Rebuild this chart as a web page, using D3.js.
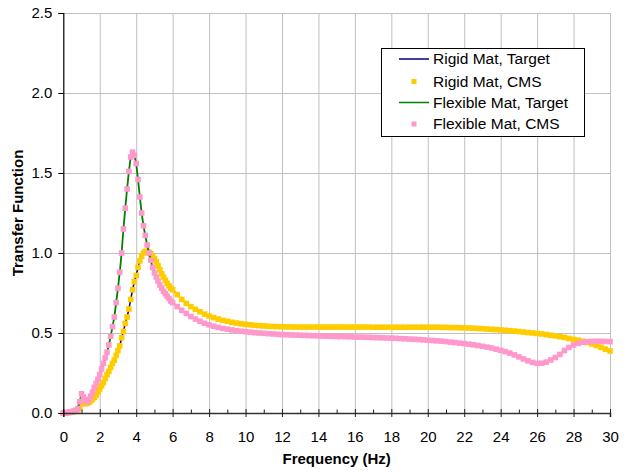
<!DOCTYPE html>
<html>
<head>
<meta charset="utf-8">
<script src="https://cdn.jsdelivr.net/npm/d3@7"></script>
<style>
  html, body { margin: 0; padding: 0; background: #fff; }
  svg { display: block; font-family: Arial, "Liberation Sans", sans-serif; }
</style>
</head>
<body>
<svg id="chart" width="629" height="472"></svg>
<script>
// ---------------- DATA ----------------
const freq = [
  0,0.1,0.2,0.3,0.4,0.5,0.6,0.7,0.8,0.9,1,1.1,1.2,1.3,1.4,1.5,1.6,1.7,1.8,1.9,
  2,2.1,2.2,2.3,2.4,2.5,2.6,2.7,2.8,2.9,3,3.1,3.2,3.3,3.4,3.5,3.6,3.7,3.8,3.9,
  4,4.1,4.2,4.3,4.4,4.5,4.6,4.7,4.8,4.9,5,5.1,5.2,5.3,5.4,5.5,5.6,5.7,5.8,5.9,6,
  6.25,6.5,6.75,7,7.25,7.5,7.75,8,8.25,8.5,8.75,9,9.25,9.5,9.75,10,10.25,10.5,10.75,11,
  11.25,11.5,11.75,12,12.25,12.5,12.75,13,13.25,13.5,13.75,14,14.25,14.5,14.75,15,
  15.25,15.5,15.75,16,16.25,16.5,16.75,17,17.25,17.5,17.75,18,18.25,18.5,18.75,19,
  19.25,19.5,19.75,20,20.25,20.5,20.75,21,21.25,21.5,21.75,22,22.25,22.5,22.75,23,
  23.25,23.5,23.75,24,24.25,24.5,24.75,25,25.25,25.5,25.75,26,26.25,26.5,26.75,27,
  27.25,27.5,27.75,28,28.25,28.5,28.75,29,29.25,29.5,29.75,30
];

const rigidCMS = [
  0,0,0.002,0.003,0.005,0.007,0.01,0.014,0.02,0.035,0.06,0.06,0.058,0.06,0.066,0.075,0.085,0.097,0.11,0.13,
  0.15,0.17,0.19,0.215,0.24,0.26,0.285,0.31,0.33,0.36,0.39,0.42,0.47,0.51,0.56,0.6,0.65,0.71,0.77,0.82,
  0.86,0.91,0.95,0.98,1.0,1.01,1.01,1.005,0.995,0.98,0.965,0.945,0.92,0.895,0.87,0.85,0.83,0.81,0.795,0.78,0.77,
  0.74,0.71,0.685,0.665,0.648,0.633,0.618,0.606,0.596,0.587,0.579,0.573,0.567,0.562,0.558,0.554,0.551,0.548,0.546,0.544,
  0.542,0.541,0.54,0.539,0.538,0.538,0.537,0.537,0.537,0.537,0.537,0.537,0.537,0.537,0.537,0.537,
  0.537,0.537,0.537,0.537,0.537,0.537,0.537,0.536,0.536,0.536,0.536,0.536,0.536,0.536,0.536,0.536,
  0.536,0.536,0.536,0.536,0.536,0.536,0.535,0.535,0.534,0.534,0.533,0.532,0.531,0.53,0.528,0.527,
  0.525,0.523,0.521,0.519,0.517,0.514,0.512,0.509,0.506,0.503,0.5,0.497,0.494,0.49,0.486,0.482,
  0.477,0.472,0.466,0.46,0.455,0.449,0.441,0.432,0.422,0.411,0.399,0.388
];

const flexCMS = [
  0,0,0.002,0.004,0.006,0.009,0.013,0.018,0.027,0.07,0.12,0.1,0.08,0.07,0.085,0.105,0.13,0.16,0.185,0.21,
  0.24,0.275,0.31,0.345,0.38,0.425,0.48,0.54,0.6,0.69,0.78,0.88,1.0,1.15,1.28,1.4,1.51,1.6,1.63,1.61,
  1.56,1.46,1.35,1.25,1.17,1.11,1.05,1.0,0.955,0.91,0.875,0.85,0.825,0.8,0.78,0.76,0.745,0.73,0.715,0.7,0.69,
  0.665,0.642,0.622,0.603,0.587,0.573,0.561,0.551,0.542,0.535,0.529,0.524,0.519,0.515,0.511,0.508,0.505,0.502,0.5,0.498,
  0.496,0.494,0.492,0.49,0.489,0.488,0.487,0.486,0.485,0.484,0.483,0.482,0.481,0.48,0.479,0.478,
  0.478,0.477,0.476,0.475,0.474,0.474,0.473,0.472,0.471,0.47,0.469,0.468,0.467,0.465,0.464,0.462,
  0.461,0.459,0.457,0.455,0.453,0.451,0.449,0.446,0.443,0.44,0.437,0.434,0.43,0.426,0.422,0.417,
  0.412,0.406,0.399,0.392,0.384,0.374,0.363,0.351,0.338,0.326,0.316,0.31,0.311,0.318,0.331,0.347,
  0.366,0.39,0.41,0.425,0.435,0.442,0.446,0.447,0.448,0.448,0.447,0.446
];

// Target curves coincide with the CMS results
const rigidTarget = rigidCMS;
const flexTarget = flexCMS;

const xTicks = [0,2,4,6,8,10,12,14,16,18,20,22,24,26,28,30];
const xMinorTicks = [1,3,5,7,9,11,13,15,17,19,21,23,25,27,29];
const yTicks = [0,0.5,1.0,1.5,2.0,2.5];

const seriesNames = ["Rigid Mat, Target","Rigid Mat, CMS","Flexible Mat, Target","Flexible Mat, CMS"];

// ---------------- CHART ----------------
const svg = d3.select("#chart");
const L = 63.3, R = 610, T = 13, B = 413;

const x = d3.scaleLinear().domain([0,30]).range([L,R]);
const y = d3.scaleLinear().domain([0,2.5]).range([B,T]);

const gridColor = "#c0c0c0";

// gridlines
svg.append("g")
  .attr("transform", `translate(0,${B})`)
  .call(d3.axisBottom(x).tickValues(xTicks.filter(d => d > 0)).tickSize(-(B - T)).tickFormat(""))
  .call(g => g.select(".domain").remove())
  .call(g => g.selectAll("line").attr("stroke", gridColor).attr("stroke-width", 1));

svg.append("g")
  .attr("transform", `translate(${L},0)`)
  .call(d3.axisLeft(y).tickValues(yTicks.filter(d => d > 0)).tickSize(-(R - L)).tickFormat(""))
  .call(g => g.select(".domain").remove())
  .call(g => g.selectAll("line").attr("stroke", gridColor).attr("stroke-width", 1));

// series
const pts = (vals) => freq.map((f, i) => [f, vals[i]]);
const line = d3.line().x(d => x(d[0])).y(d => y(d[1]));
const ms = 5.6;

svg.append("path").datum(pts(rigidTarget))
  .attr("fill", "none").attr("stroke", "#000080").attr("stroke-width", 1.5).attr("d", line);

svg.append("g").selectAll("rect").data(pts(rigidCMS)).join("rect")
  .attr("x", d => x(d[0]) - ms / 2).attr("y", d => y(d[1]) - ms / 2)
  .attr("width", ms).attr("height", ms).attr("fill", "#ffcc00");

svg.append("path").datum(pts(flexTarget))
  .attr("fill", "none").attr("stroke", "#008000").attr("stroke-width", 1.8).attr("d", line);

svg.append("g").selectAll("rect").data(pts(flexCMS)).join("rect")
  .attr("x", d => x(d[0]) - ms / 2).attr("y", d => y(d[1]) - ms / 2)
  .attr("width", ms).attr("height", ms).attr("fill", "#ff99cc");

// x axis
const xAxisG = svg.append("g").attr("transform", `translate(0,${B})`);
xAxisG.call(d3.axisBottom(x).tickValues(xTicks).tickSizeOuter(0).tickSize(4).tickPadding(0))
  .call(g => g.select(".domain").attr("stroke", "#333").attr("stroke-width", 1.5))
  .call(g => g.selectAll(".tick line").attr("y1", -4).attr("y2", 4).attr("stroke", "#222"))
  .call(g => g.selectAll(".tick text").attr("y", 29).attr("dy", 0)
      .attr("font-size", 15).attr("fill", "#000").attr("font-family", "Arial, 'Liberation Sans', sans-serif"));
svg.append("g").attr("transform", `translate(0,${B})`)
  .call(d3.axisBottom(x).tickValues(xMinorTicks).tickSize(-3.5).tickFormat(""))
  .call(g => g.select(".domain").remove())
  .call(g => g.selectAll("line").attr("stroke", "#222"));

// y axis
svg.append("g").attr("transform", `translate(${L},0)`)
  .call(d3.axisLeft(y).tickValues(yTicks).tickFormat(d3.format(".1f")).tickSizeOuter(0).tickSize(5).tickPadding(6))
  .call(g => g.select(".domain").attr("stroke", "#000").attr("stroke-width", 1.2))
  .call(g => g.selectAll(".tick line").attr("stroke", "#000"))
  .call(g => g.selectAll(".tick text").attr("font-size", 15).attr("fill", "#000")
      .attr("font-family", "Arial, 'Liberation Sans', sans-serif"));

// axis titles
svg.append("text").attr("x", (L + R) / 2).attr("y", 464).attr("text-anchor", "middle")
  .attr("font-size", 15).attr("font-weight", "bold").text("Frequency (Hz)");
svg.append("text").attr("transform", `translate(23,${(T + B) / 2}) rotate(-90)`)
  .attr("text-anchor", "middle").attr("font-size", 15).attr("font-weight", "bold").text("Transfer Function");

// legend
const lg = svg.append("g");
lg.append("rect").attr("x", 381.5).attr("y", 48.5).attr("width", 203).attr("height", 88)
  .attr("fill", "#fff").attr("stroke", "#000").attr("stroke-width", 1);
const rowY = [59, 81.5, 102.5, 124];
const styles = [
  {type: "line", color: "#000080"},
  {type: "mark", color: "#ffcc00"},
  {type: "line", color: "#008000"},
  {type: "mark", color: "#ff99cc"}
];
seriesNames.forEach((name, i) => {
  const s = styles[i];
  if (s.type === "line") {
    lg.append("line").attr("x1", 399).attr("x2", 429).attr("y1", rowY[i]).attr("y2", rowY[i])
      .attr("stroke", s.color).attr("stroke-width", 1.5);
  } else {
    lg.append("rect").attr("x", 414 - 2.5).attr("y", rowY[i] - 2.5).attr("width", 5).attr("height", 5)
      .attr("fill", s.color);
  }
  lg.append("text").attr("x", 433).attr("y", rowY[i]).attr("dy", "0.35em")
    .attr("font-size", 15.5).attr("fill", "#000").text(name);
});
</script>
</body>
</html>
